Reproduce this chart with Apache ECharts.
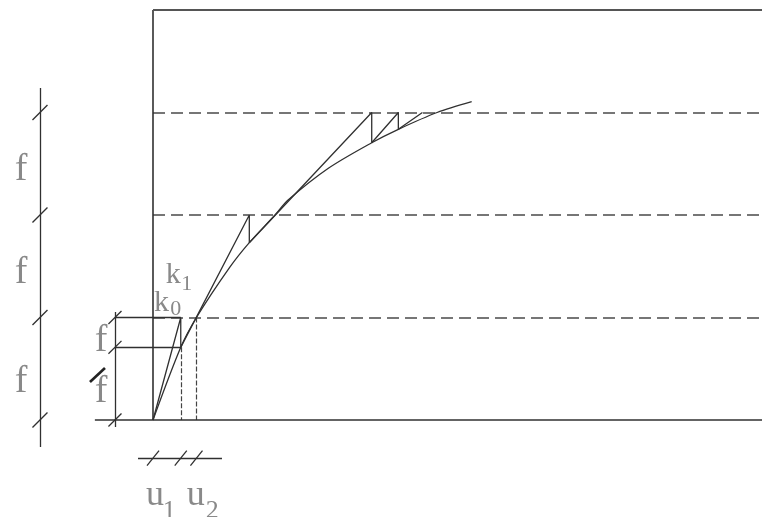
<!DOCTYPE html>
<html>
<head>
<meta charset="utf-8">
<script src="https://cdn.jsdelivr.net/npm/echarts@6/dist/echarts.min.js"></script>
<style>
  html, body { margin: 0; padding: 0; background: #ffffff; }
  #chart { width: 762px; height: 517px; }
</style>
</head>
<body>
<div id="chart"></div>
<script>
// Load levels, in multiples of the load step f
const loadLevels = [1, 2, 3];

// Equilibrium path: displacement u against load (in units of f)
const pathU = [0, 0.272, 0.426, 0.755, 0.944, 1.196, 1.324, 1.719, 2.144, 2.405, 2.785, 3.124];
const pathF = [0, 0.709, 1.0, 1.493, 1.730, 2.0, 2.146, 2.456, 2.705, 2.836, 3.0, 3.105];

// Newton iteration: tangent predictor up to a load level, then vertical return to the path
const iterU = [0, 0.272, 0.272, 0.944, 0.944, 2.144, 2.144, 2.405, 2.405, 2.641];
const iterF = [0, 1, 0.709, 2, 1.730, 3, 2.705, 3, 2.836, 3];

// First load step: displacements u1, u2 and the intermediate load reached at u1
const stepU = [0.272, 0.426];
const stepF = [0.709, 1];
const stepNames = ['1', '2'];

const INK = '#303030';
const TEXT = '#6c6c6c';
const FONT = '"Liberation Serif", "DejaVu Serif", serif';

// ---- geometry helpers (all in data units) ----
function seg(a, b, style) {
  return { coords: [a, b], lineStyle: style || {} };
}
// short oblique tick mark across an axis line
function slash(u, v, du, dv) {
  return seg([u - du, v - dv], [u + du, v + dv]);
}

const outerAxisU = -1.108;   // dimension line for the load levels
const innerAxisU = -0.373;   // dimension line for the first step
const dimLineF = -0.371;     // dimension line below the u axis

// frame
const frameSegs = [
  seg([0, 0], [0, 4]),
  seg([0, 4], [6, 4], { width: 2, color: '#555' }),
  seg([-0.57, 0], [6, 0])
];

// dashed load levels across the plot
const levelSegs = loadLevels.map(f => seg([0, f], [6, f]));

// load-level dimension line with oblique ticks
const outerSegs = [seg([outerAxisU, -0.263], [outerAxisU, 3.24])]
  .concat([0].concat(loadLevels).map(f => slash(outerAxisU, f, 0.0735, 0.073)));

// first-step dimension line
const innerSegs = [
  seg([innerAxisU, -0.068], [innerAxisU, 1.054]),
  seg([innerAxisU, stepF[1]], [stepU[0], stepF[1]]),
  seg([innerAxisU, stepF[0]], [stepU[0], stepF[0]])
].concat([0, stepF[0], stepF[1]].map(f => slash(innerAxisU, f, 0.064, 0.063)))
 .concat([seg([-0.618, 0.371], [-0.471, 0.507], { width: 2.6, color: '#222' })]);

// displacement dimension line below the axis
const bottomSegs = [seg([-0.147, dimLineF], [0.676, dimLineF])]
  .concat([0].concat(stepU).map(u => slash(u, dimLineF, 0.059, 0.073)));

// dashed verticals at u1 and u2
const dropSegs = stepU.map((u, i) => seg([u, stepF[i]], [u, 0]));

// text labels
function txt(u, v, s, size, align) {
  return {
    value: [u, v],
    label: {
      show: true, formatter: s, position: 'inside',
      fontSize: size, fontFamily: FONT, color: TEXT,
      align: align || 'center', verticalAlign: 'middle'
    }
  };
}
const outerLabelF = [2.44, 1.434, 0.371];
const texts = outerLabelF.map(v => txt(-1.294, v, 'f', 38))
  .concat([
    txt(-0.51, 0.771, 'f', 38),
    txt(-0.51, 0.273, 'f', 38),
    txt(0.083, 1.14, 'k', 30),
    txt(0.222, 1.085, '0', 22),
    txt(0.198, 1.41, 'k', 30),
    txt(0.33, 1.325, '1', 22)
  ])
  .concat(stepU.map((u, i) => txt(i === 0 ? 0.02 : 0.42, -0.74, 'u', 36)))
  .concat(stepNames.map((s, i) => txt(i === 0 ? 0.16 : 0.58, -0.885, s, 26)));

const chart = echarts.init(document.getElementById('chart'), null, { renderer: 'canvas' });

function linesSeries(data, style) {
  return {
    type: 'lines', coordinateSystem: 'cartesian2d', polyline: false,
    silent: true, animation: false, clip: false,
    lineStyle: Object.assign({ color: INK, width: 1.3, opacity: 1 }, style),
    data: data
  };
}

chart.setOption({
  animation: false,
  backgroundColor: '#ffffff',
  grid: { left: 0, top: 10, right: 0, bottom: 0, containLabel: false },
  xAxis: { type: 'value', min: -1.5, max: 5.97, show: false },
  yAxis: { type: 'value', min: -0.946, max: 4, show: false },
  series: [
    linesSeries(levelSegs, { type: [12, 6], width: 1.6, color: '#4a4a4a' }),
    linesSeries(dropSegs, { type: [5, 2], width: 1.2, color: '#444' }),
    linesSeries(frameSegs, { width: 1.6 }),
    linesSeries(outerSegs, { width: 1.3 }),
    linesSeries(innerSegs, { width: 1.3 }),
    linesSeries(bottomSegs, { width: 1.3 }),
    {
      type: 'line', name: 'path', silent: true, showSymbol: false, symbol: 'none',
      smooth: 0.3, clip: false,
      lineStyle: { color: INK, width: 1.3 },
      data: pathU.map((u, i) => [u, pathF[i]])
    },
    {
      type: 'line', name: 'iteration', silent: true, showSymbol: false, symbol: 'none',
      clip: false,
      lineStyle: { color: INK, width: 1.3 },
      data: iterU.map((u, i) => [u, iterF[i]])
    },
    {
      type: 'scatter', silent: true, symbolSize: 0,
      data: texts
    }
  ]
});
</script>
</body>
</html>
